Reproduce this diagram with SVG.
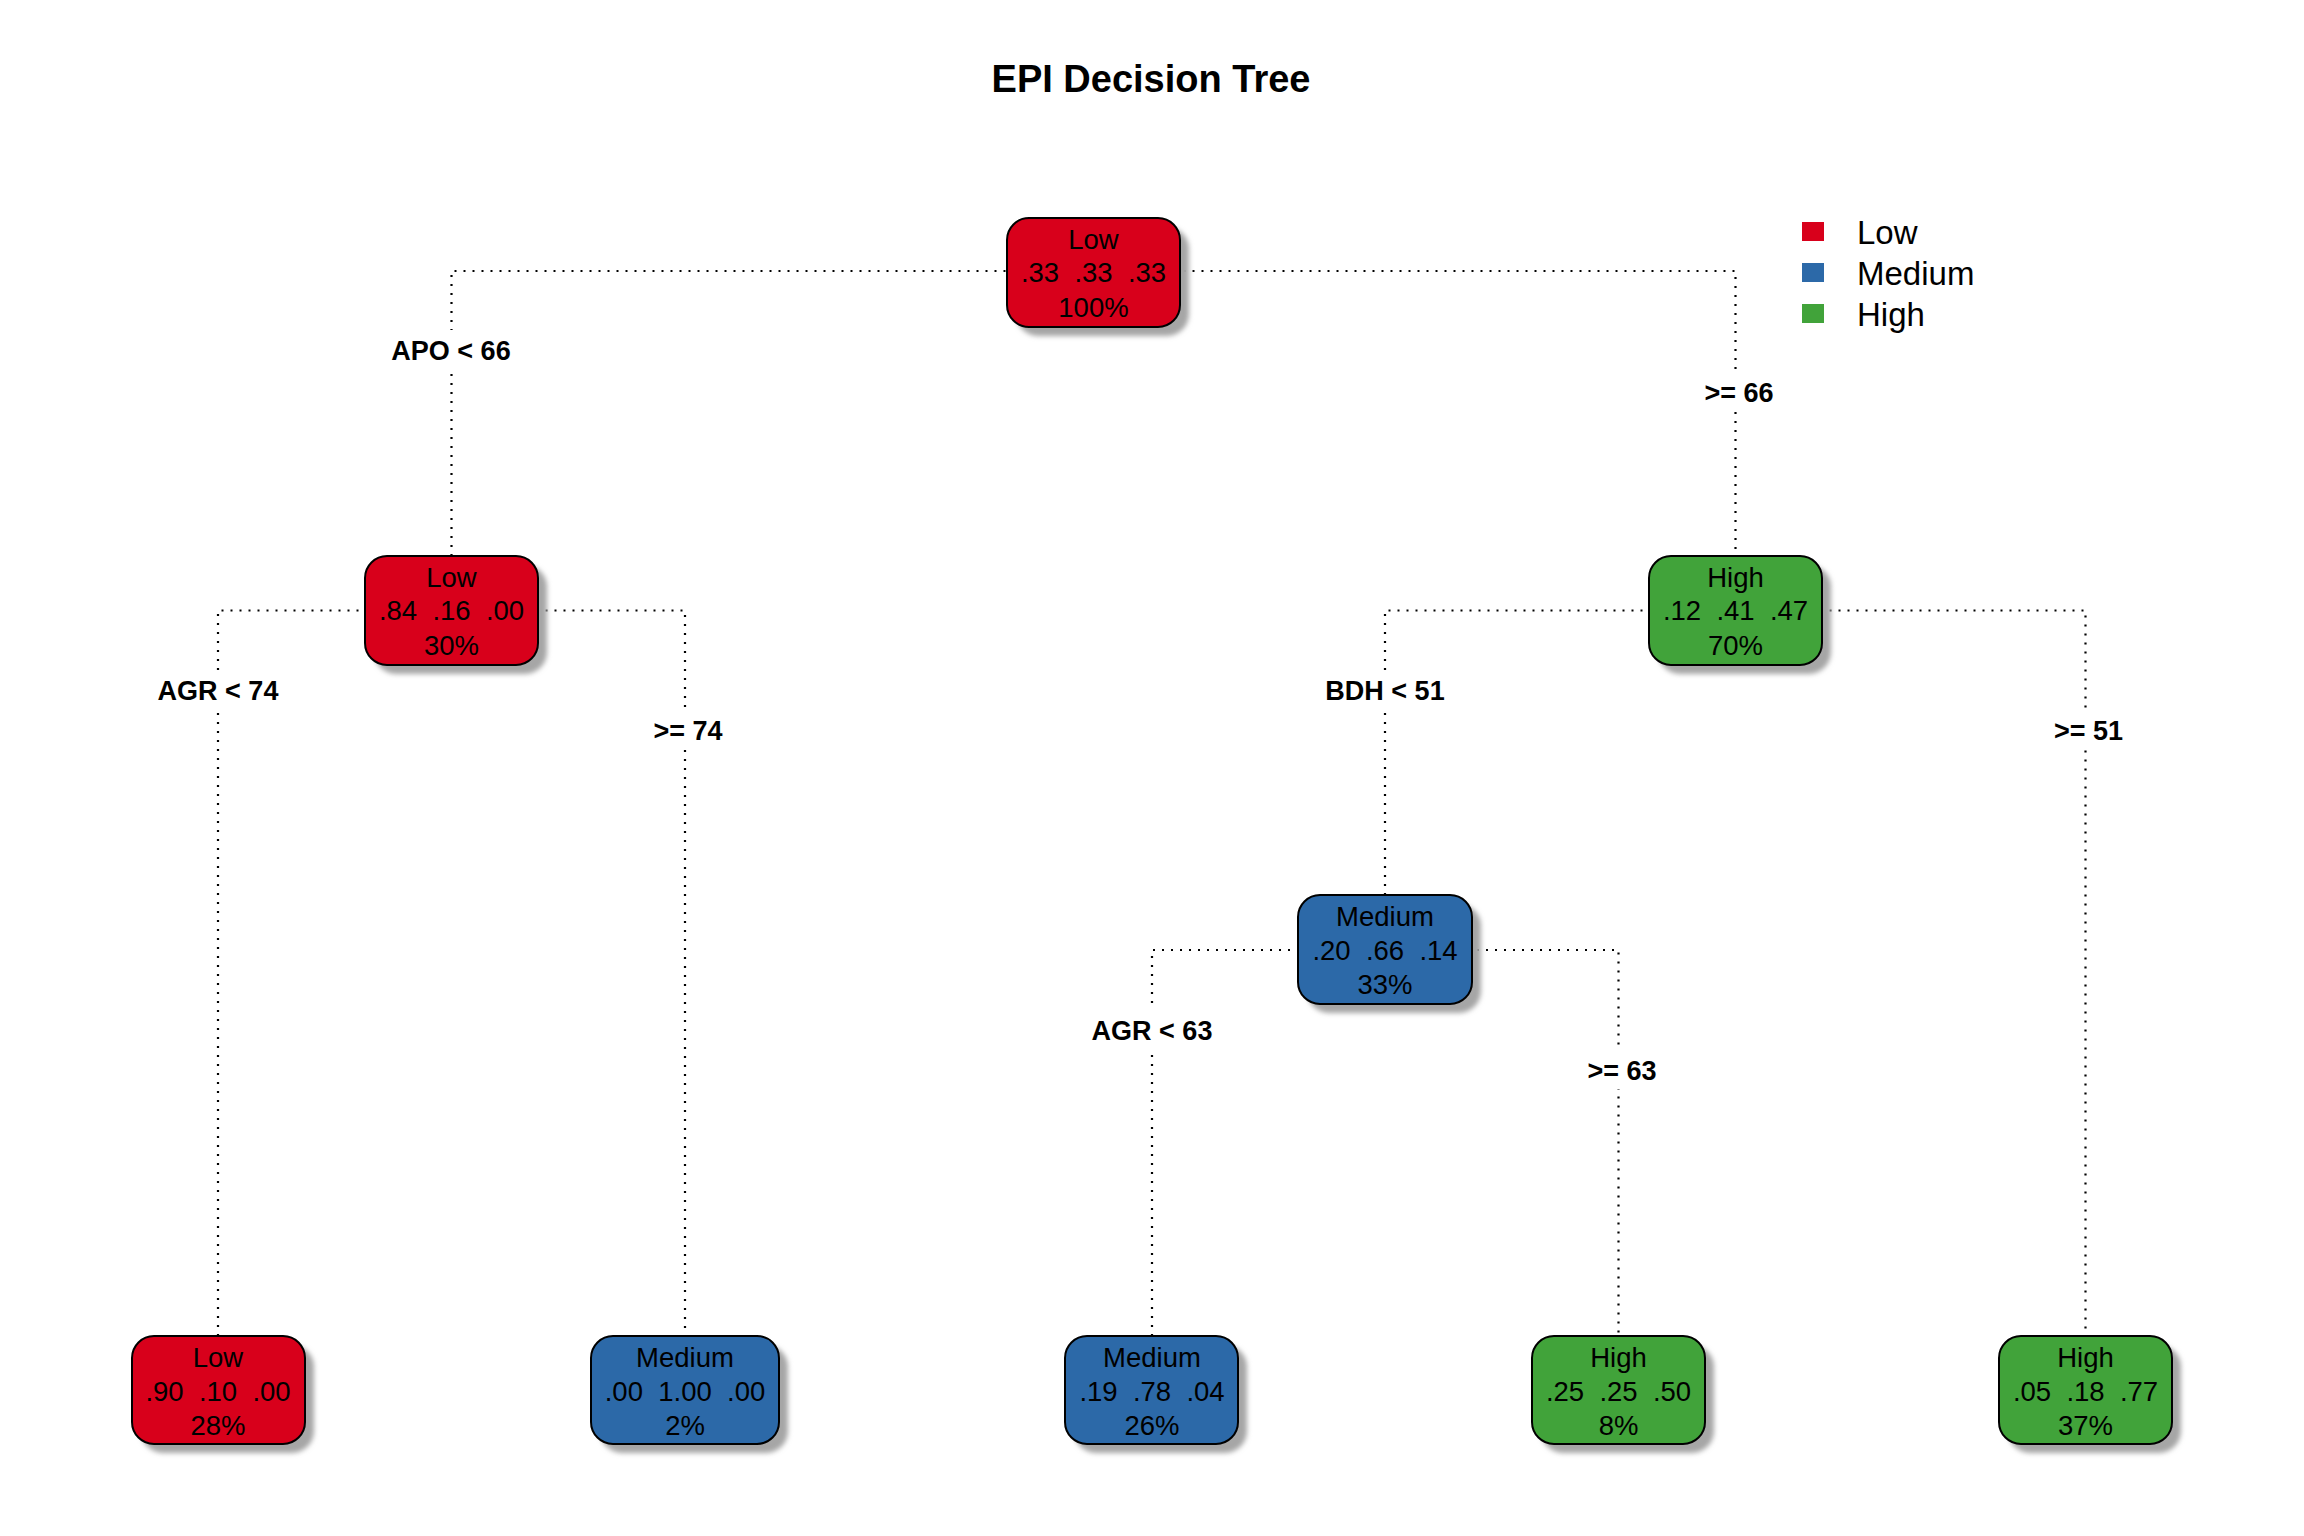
<svg xmlns="http://www.w3.org/2000/svg" width="2304" height="1536" viewBox="0 0 2304 1536">
<defs>
<filter id="blur" x="-20%" y="-20%" width="140%" height="140%"><feGaussianBlur stdDeviation="2.5"/></filter>
<style>
.conn{fill:none;stroke:#000;stroke-width:2.2;stroke-dasharray:2 7}
.shadow{fill:#a6a6a6;filter:url(#blur)}
.box{stroke:#000;stroke-width:2}
.low{fill:#D8001B}
.med{fill:#2C69A8}
.high{fill:#41A33A}
.nt{font-family:"Liberation Sans",Arial,sans-serif;font-size:27.5px;fill:#000;text-anchor:middle}
.lbl{font-family:"Liberation Sans",Arial,sans-serif;font-size:27px;font-weight:bold;fill:#000;text-anchor:middle}
.lblbg{fill:#fff}
.title{font-family:"Liberation Sans",Arial,sans-serif;font-size:38px;font-weight:bold;fill:#000;text-anchor:middle}
.leg{font-family:"Liberation Sans",Arial,sans-serif;font-size:33px;fill:#000}
</style>
</defs>
<rect width="2304" height="1536" fill="#fff"/>
<text class="title" x="1151" y="92">EPI Decision Tree</text>

<g id="connectors">
<path class="conn" d="M451.5,556 V271 H1735.5 V556"/>
<path class="conn" d="M218,1336 V610.5 H685 V1336"/>
<path class="conn" d="M1385,895 V610.5 H2085.5 V1336"/>
<path class="conn" d="M1152,1336 V950 H1618.5 V1336"/>
</g>

<g id="split-labels">
<rect class="lblbg" x="386" y="330" width="131" height="40"/>
<text class="lbl" x="451" y="360">APO &lt; 66</text>
<rect class="lblbg" x="1700" y="371" width="78" height="40"/>
<text class="lbl" x="1739" y="401.5">&gt;= 66</text>
<rect class="lblbg" x="152" y="670" width="132" height="40"/>
<text class="lbl" x="218" y="700">AGR &lt; 74</text>
<rect class="lblbg" x="650" y="710" width="76" height="40"/>
<text class="lbl" x="688" y="740">&gt;= 74</text>
<rect class="lblbg" x="1318" y="670" width="134" height="40"/>
<text class="lbl" x="1385" y="700">BDH &lt; 51</text>
<rect class="lblbg" x="2051" y="710" width="76" height="40"/>
<text class="lbl" x="2088.5" y="740">&gt;= 51</text>
<rect class="lblbg" x="1086" y="1010" width="132" height="40"/>
<text class="lbl" x="1152" y="1040">AGR &lt; 63</text>
<rect class="lblbg" x="1584" y="1049" width="76" height="40"/>
<text class="lbl" x="1622" y="1079.5">&gt;= 63</text>
</g>

<g id="node1">
<rect class="shadow" x="1016" y="227" width="173" height="109" rx="22"/>
<rect class="box low" x="1007" y="218" width="173" height="109" rx="22"/>
<text class="nt" x="1093.5" y="249">Low</text>
<text class="nt" x="1093.5" y="282" xml:space="preserve">.33  .33  .33</text>
<text class="nt" x="1093.5" y="316.5">100%</text>
</g>

<g id="node2">
<rect class="shadow" x="374" y="565" width="173" height="109" rx="22"/>
<rect class="box low" x="365" y="556" width="173" height="109" rx="22"/>
<text class="nt" x="451.5" y="587">Low</text>
<text class="nt" x="451.5" y="620" xml:space="preserve">.84  .16  .00</text>
<text class="nt" x="451.5" y="654.5">30%</text>
</g>

<g id="node3">
<rect class="shadow" x="1658" y="565" width="173" height="109" rx="22"/>
<rect class="box high" x="1649" y="556" width="173" height="109" rx="22"/>
<text class="nt" x="1735.5" y="587">High</text>
<text class="nt" x="1735.5" y="620" xml:space="preserve">.12  .41  .47</text>
<text class="nt" x="1735.5" y="654.5">70%</text>
</g>

<g id="node6">
<rect class="shadow" x="1307" y="904" width="174" height="109" rx="22"/>
<rect class="box med" x="1298" y="895" width="174" height="109" rx="22"/>
<text class="nt" x="1385" y="926">Medium</text>
<text class="nt" x="1385" y="959.5" xml:space="preserve">.20  .66  .14</text>
<text class="nt" x="1385" y="994">33%</text>
</g>

<g id="node4">
<rect class="shadow" x="141" y="1345" width="173" height="108" rx="22"/>
<rect class="box low" x="132" y="1336" width="173" height="108" rx="22"/>
<text class="nt" x="218" y="1367">Low</text>
<text class="nt" x="218" y="1400.5" xml:space="preserve">.90  .10  .00</text>
<text class="nt" x="218" y="1434.5">28%</text>
</g>

<g id="node5">
<rect class="shadow" x="600" y="1345" width="188" height="108" rx="22"/>
<rect class="box med" x="591" y="1336" width="188" height="108" rx="22"/>
<text class="nt" x="685" y="1367">Medium</text>
<text class="nt" x="685" y="1400.5" xml:space="preserve">.00  1.00  .00</text>
<text class="nt" x="685" y="1434.5">2%</text>
</g>

<g id="node12">
<rect class="shadow" x="1074" y="1345" width="173" height="108" rx="22"/>
<rect class="box med" x="1065" y="1336" width="173" height="108" rx="22"/>
<text class="nt" x="1152" y="1367">Medium</text>
<text class="nt" x="1152" y="1400.5" xml:space="preserve">.19  .78  .04</text>
<text class="nt" x="1152" y="1434.5">26%</text>
</g>

<g id="node13">
<rect class="shadow" x="1541" y="1345" width="173" height="108" rx="22"/>
<rect class="box high" x="1532" y="1336" width="173" height="108" rx="22"/>
<text class="nt" x="1618.5" y="1367">High</text>
<text class="nt" x="1618.5" y="1400.5" xml:space="preserve">.25  .25  .50</text>
<text class="nt" x="1618.5" y="1434.5">8%</text>
</g>

<g id="node7">
<rect class="shadow" x="2008" y="1345" width="173" height="108" rx="22"/>
<rect class="box high" x="1999" y="1336" width="173" height="108" rx="22"/>
<text class="nt" x="2085.5" y="1367">High</text>
<text class="nt" x="2085.5" y="1400.5" xml:space="preserve">.05  .18  .77</text>
<text class="nt" x="2085.5" y="1434.5">37%</text>
</g>

<g id="legend">
<rect class="low" x="1802" y="222" width="22" height="19"/>
<rect class="med" x="1802" y="263" width="22" height="19"/>
<rect class="high" x="1802" y="304" width="22" height="19"/>
<text class="leg" x="1857" y="244">Low</text>
<text class="leg" x="1857" y="285">Medium</text>
<text class="leg" x="1857" y="326">High</text>
</g>
</svg>
